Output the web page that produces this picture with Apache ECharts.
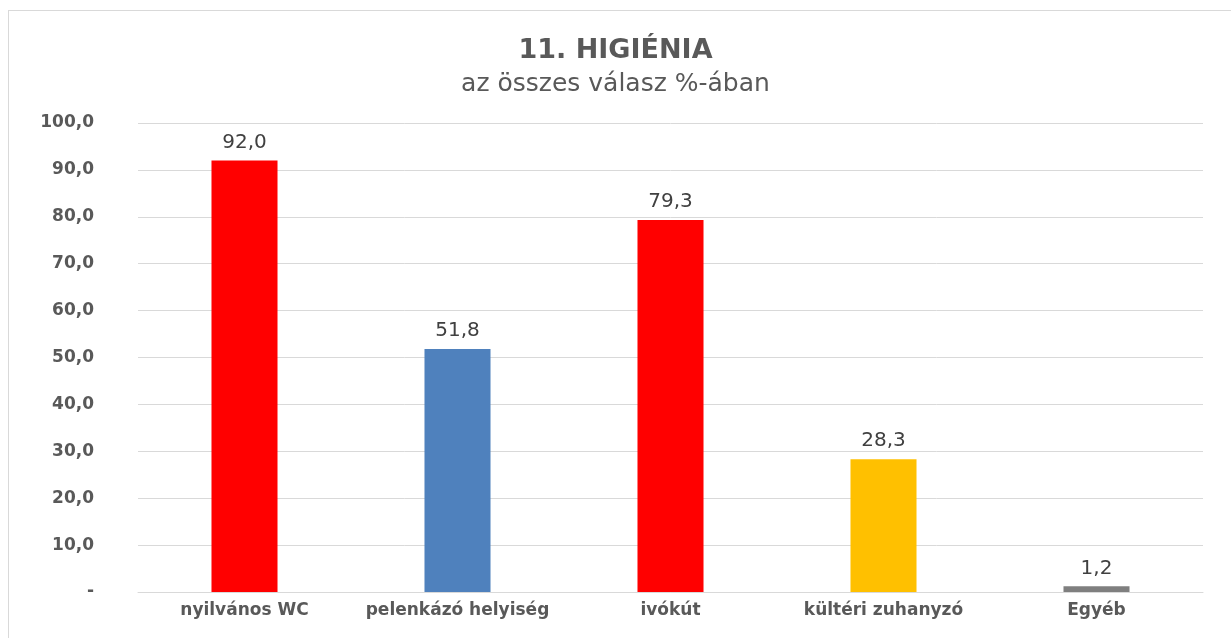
<!DOCTYPE html>
<html><head><meta charset="utf-8">
<script src="https://cdn.jsdelivr.net/npm/echarts@6/dist/echarts.min.js"></script>
<style>
html,body{margin:0;padding:0;background:#fff;}
#frame{position:absolute;left:8px;top:10px;width:1240px;height:640px;border:1.5px solid #d9d9d9;box-sizing:border-box;}
#c{position:absolute;left:0;top:0;width:1231px;height:638px;}
</style></head>
<body>
<div id="frame"></div>
<div id="c"></div>
<script>
const categories = ['nyilvános WC', 'pelenkázó helyiség', 'ivókút', 'kültéri zuhanyzó', 'Egyéb'];
const values = [92.0, 51.8, 79.3, 28.3, 1.2];
const barColors = ['#ff0000', '#4f81bd', '#ff0000', '#ffc000', '#7f7f7f'];
const titleText = '11. HIGIÉNIA';
const subtitleText = 'az összes válasz %-ában';

const fmt = v => v === 0 ? '-' : v.toFixed(1).replace('.', ',');
const font = '"DejaVu Sans", "Open Sans", sans-serif';

const chart = echarts.init(document.getElementById('c'));
chart.setOption({
  animation: false,
  title: {
    text: titleText,
    subtext: subtitleText,
    left: 'center',
    top: 32,
    itemGap: 8,
    textStyle: {fontFamily: font, fontSize: 27, fontWeight: 'bold', color: '#595959'},
    subtextStyle: {fontFamily: font, fontSize: 25, color: '#595959'}
  },
  grid: {left: 138, right: 28, top: 123, bottom: 46},
  xAxis: {
    type: 'category',
    data: categories,
    axisLine: {show: true, lineStyle: {color: '#d9d9d9'}},
    axisTick: {show: false},
    axisLabel: {interval: 0, fontFamily: font, fontSize: 17, fontWeight: 'bold', color: '#595959', margin: 10}
  },
  yAxis: {
    type: 'value',
    min: 0, max: 100, interval: 10,
    axisLine: {show: false},
    axisTick: {show: false},
    splitLine: {lineStyle: {color: '#d9d9d9'}},
    axisLabel: {fontFamily: font, fontSize: 17, fontWeight: 'bold', color: '#595959', margin: 44, formatter: fmt}
  },
  series: [{
    type: 'bar',
    barWidth: '31%',
    data: values.map((v, i) => ({value: v, itemStyle: {color: barColors[i]}})),
    label: {
      show: true, position: 'top', distance: 8,
      fontFamily: font, fontSize: 20, color: '#404040',
      formatter: p => fmt(p.value)
    }
  }]
});
</script>
</body></html>
